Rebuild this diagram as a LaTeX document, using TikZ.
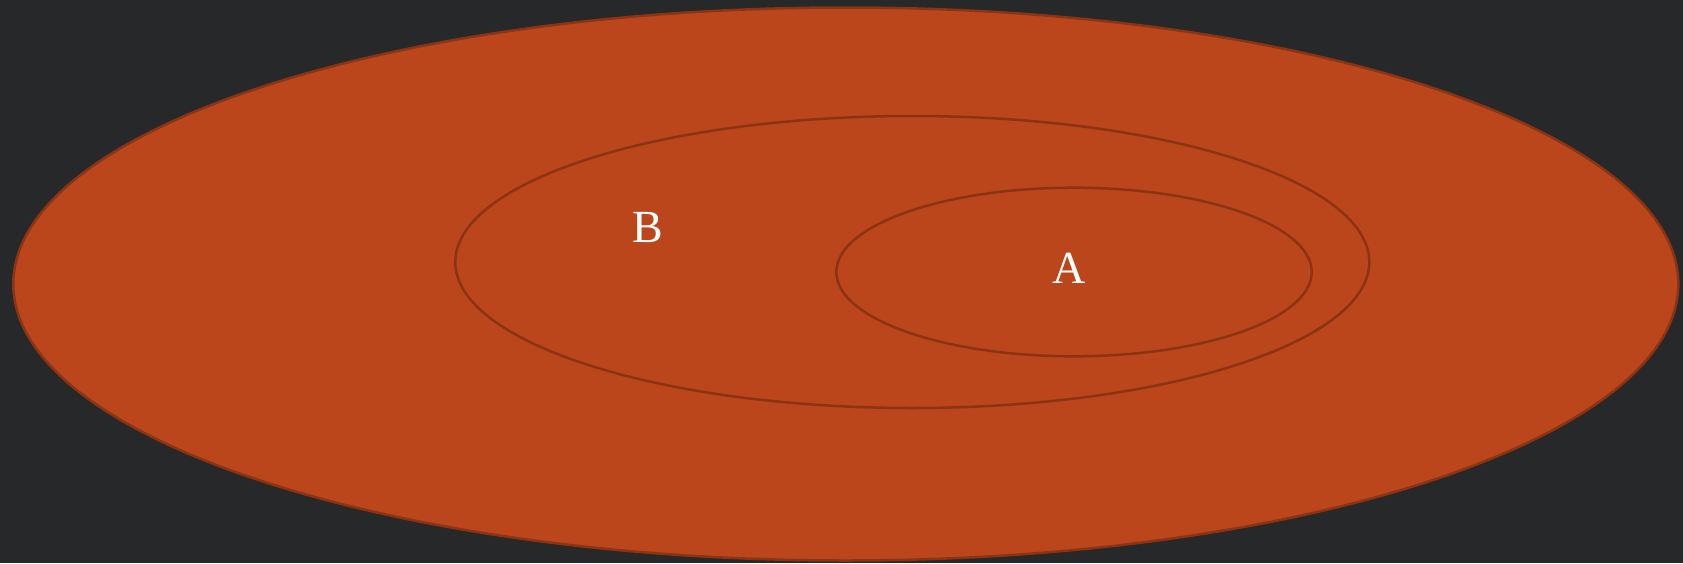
\documentclass[tikz,border=0pt]{standalone}
\usepackage{fontspec}
\setmainfont{Liberation Serif}
\definecolor{bg}{HTML}{27282A}
\definecolor{fillc}{HTML}{BC461B}
\definecolor{edge}{HTML}{8A3413}
\begin{document}
\begin{tikzpicture}[x=1pt,y=-1pt,
  setshape/.style={fill=fillc,draw=edge,line width=2.5pt},
  inner/.style={draw=edge,line width=2.5pt},
  lab/.style={text=white,font=\fontsize{46}{50}\selectfont,inner sep=0pt}]
\fill[bg] (0,0) rectangle (1683,563);
\useasboundingbox (0,0) rectangle (1683,563);
\draw[setshape] (845.8,284) ellipse [x radius=832.5, y radius=276.5];
\draw[inner] (912.3,262) ellipse [x radius=457, y radius=146];
\draw[inner] (1074,272) ellipse [x radius=237.7, y radius=84.3];
\node[lab] (B) at (647.5,228) {B};
\node[lab] (A) at (1069,268.5) {A};
\end{tikzpicture}
\end{document}
